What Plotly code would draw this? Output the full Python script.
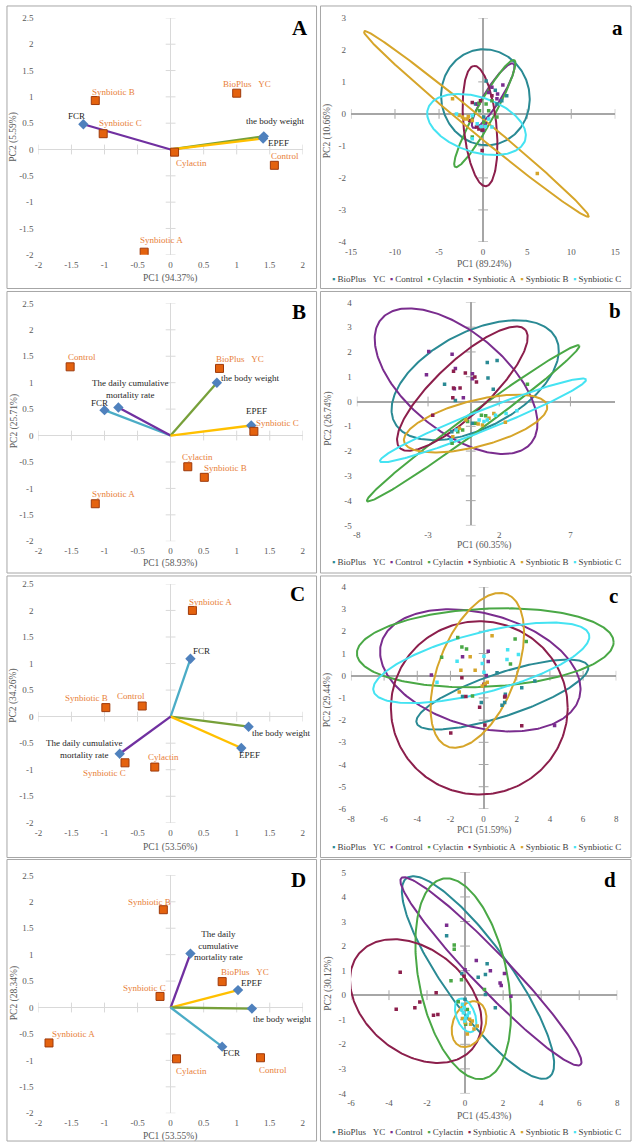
import numpy as np
import plotly.graph_objects as go

W, H = 637, 1148
FONT = 'Liberation Serif'
NB = '\u00a0'

# ---------------- data: biplots (left column) ----------------
A_trt = ['Synbiotic B', 'Synbiotic C', 'BioPlus' + NB * 3 + 'YC', 'Cylactin', 'Control', 'Synbiotic A']
A_trt_x = [-1.14, -1.02, 1.00, 0.06, 1.57, -0.40]
A_trt_y = [0.93, 0.30, 1.07, -0.05, -0.30, -1.95]
A_var = ['FCR', 'the body weight', 'EPEF']
A_var_x = [-1.32, 1.41, 1.40]
A_var_y = [0.48, 0.25, 0.21]

B_trt = ['Control', 'BioPlus' + NB * 3 + 'YC', 'Synbiotic C', 'Cylactin', 'Synbiotic B', 'Synbiotic A']
B_trt_x = [-1.52, 0.74, 1.26, 0.26, 0.51, -1.14]
B_trt_y = [1.30, 1.27, 0.08, -0.59, -0.79, -1.29]
B_var = ['FCR', 'The daily cumulative<br>mortality rate', 'the body weight', 'EPEF']
B_var_x = [-1.00, -0.79, 0.70, 1.22]
B_var_y = [0.48, 0.53, 1.00, 0.19]

C_trt = ['Synbiotic A', 'Synbiotic B', 'Control', 'Synbiotic C', 'Cylactin']
C_trt_x = [0.33, -0.98, -0.43, -0.69, -0.24]
C_trt_y = [2.00, 0.17, 0.20, -0.87, -0.95]
C_var = ['FCR', 'the body weight', 'EPEF', 'The daily cumulative<br>mortality rate']
C_var_x = [0.30, 1.18, 1.07, -0.77]
C_var_y = [1.09, -0.19, -0.59, -0.70]

D_trt = ['Synbiotic B', 'Synbiotic C', 'BioPlus' + NB * 3 + 'YC', 'Synbiotic A', 'Cylactin', 'Control']
D_trt_x = [-0.11, -0.16, 0.78, -1.84, 0.09, 1.36]
D_trt_y = [1.85, 0.21, 0.49, -0.67, -0.97, -0.95]
D_var = ['The daily<br>cumulative<br>mortality rate', 'EPEF', 'the body weight', 'FCR']
D_var_x = [0.30, 1.02, 1.23, 0.78]
D_var_y = [1.02, 0.33, -0.02, -0.74]

left_xticks = [-2, -1.5, -1, -0.5, 0, 0.5, 1, 1.5, 2]
left_yticks = [-2, -1.5, -1, -0.5, 0, 0.5, 1, 1.5, 2, 2.5]

# ---------------- data: score plots (right column) ----------------
groups = ['BioPlus' + NB * 3 + 'YC', 'Control', 'Cylactin', 'Synbiotic A', 'Synbiotic B', 'Synbiotic C']

a_x = [[0.34, 1.38, 1.57, 0.07, 2.68, 2.12, -0.86, -0.11],
       [1.64, 2.24, 0.00, 1.00, 0.63, -0.67, 1.57, 0.26],
       [0.63, -0.48, -0.41, 1.57, 0.07, -1.23, 1.00, 0.34],
       [1.00, -1.23, -0.75, -0.48, -0.11, -0.11, -1.53, -0.30],
       [-2.35, -2.16, -1.68, -3.47, -1.79, 6.15, -1.23, -2.72],
       [-1.23, -3.02, -1.23, -0.22, 0.26, 1.00, 0.63, -0.67]]
a_y = [[1.03, 0.74, 0.31, -0.10, 0.57, 0.41, 0.31, -0.52],
       [0.62, 0.90, -0.50, 0.83, 0.67, 0.31, 0.47, -0.31],
       [0.10, 0.33, 0.10, -0.10, -0.26, -0.72, 0.41, 0.31],
       [0.57, 0.36, -0.41, -0.47, -0.50, -1.14, -0.21, 0.41],
       [-0.10, -0.16, -0.08, 0.47, -0.16, -1.86, -0.21, -0.05],
       [-0.05, 0.00, -0.78, -0.39, -0.39, -0.41, -0.16, -0.31]]
# ellipse: centre, end of first semi-axis, end of second semi-axis
a_ell = [[0.26, 0.52, 5.29, 0.47, 0.26, 2.02],
         [1.14, 0.57, 3.43, 1.57, 1.92, 0.43],
         [0.19, 0.01, 3.54, 1.68, 1.10, -0.13],
         [-0.35, -0.38, -1.04, 1.50, 1.50, -0.32],
         [-0.78, -0.31, -13.53, 2.585, -0.19, -0.11],
         [-0.75, -0.33, 4.77, -0.82, 0.19, 0.49]]

b_x = [[1.16, 1.85, 1.21, 1.58, -1.84, -1.08, 0.12, -1.33],
       [-2.95, -1.31, -0.52, -1.15, -3.11, 0.12, 0.12, -1.08],
       [3.98, 0.75, -1.31, -0.22, 0.35, 1.05, -0.91, -0.57],
       [-1.21, -1.21, -0.75, -0.38, -1.26, -2.67, 0.29, 0.40],
       [-1.26, -0.34, 0.52, 1.62, 2.43, 0.82, -0.80, 1.28],
       [-1.38, 0.59, 0.93, 1.74, 2.48, 3.24, -1.03, 1.16]]
b_y = [[1.57, 1.66, 0.95, 0.50, 0.70, 0.04, -0.88, -1.22],
       [2.02, 1.91, 0.15, 0.52, 1.08, 0.92, 1.12, 1.33],
       [0.70, -0.55, -1.68, -0.81, -0.88, -0.57, -1.22, -1.15],
       [1.22, 0.55, 0.55, 1.15, 0.15, -0.55, 0.99, 0.79],
       [-1.42, -0.75, -0.91, -0.48, -0.84, -0.95, -1.08, -0.68],
       [-1.55, -0.75, -0.81, -0.55, -0.48, -0.37, -1.15, -0.75]]
b_ell = [[0.31, 0.86, 5.94, 2.60, -1.36, 2.54],
         [-1.03, 0.82, 4.25, -1.67, 1.16, 2.38],
         [0.17, -0.88, 7.62, 2.26, 0.55, -1.18],
         [-0.59, 0.52, 3.82, 2.90, -1.85, 1.31],
         [0.34, -0.89, 5.36, -0.15, -0.06, 0.01],
         [0.86, -0.76, 8.09, 0.89, 1.12, -1.14]]

c_x = [[2.30, 1.27, 1.11, 1.31, 3.09, -1.27, -0.14, 0.81],
       [-1.27, 0.28, 0.28, 0.16, -3.15, 1.31, 4.28, 0.08],
       [-1.56, -1.31, -1.03, -2.53, 1.90, 2.57, 1.62, -0.67],
       [-1.98, 0.08, 2.30, -0.24, -1.07, -1.31, 1.27, 0.02],
       [0.51, -0.81, -1.37, -0.51, -1.47, 0.22, 0.08, -0.08],
       [-2.81, -1.60, -0.08, 0.02, 1.45, 1.41, 0.02, 2.10]]
c_y = [[-0.54, -1.21, -1.33, -0.84, -0.24, -0.94, -1.21, 0.13],
       [0.85, 1.10, 0.64, 0.01, 0.03, -0.91, -2.24, -0.39],
       [1.72, 1.29, 1.20, 0.83, 1.65, 1.54, 0.53, -0.91],
       [-2.58, -2.22, -2.25, -1.42, -0.94, -0.09, -0.96, -0.39],
       [1.80, 0.85, 0.25, 0.25, -0.73, -0.29, -0.36, -0.46],
       [-0.29, 0.65, 0.55, 0.88, 1.17, 0.73, 0.16, 0.95]]
c_ell = [[1.13, -0.85, 6.30, 0.43, 1.53, -1.77],
         [-0.20, 0.24, 5.78, -0.97, 0.68, 2.71],
         [0.10, 1.26, 7.84, 1.51, 0.10, 3.02],
         [-0.26, -1.45, 5.07, -1.45, -0.26, 2.45],
         [-0.38, 0.24, 1.41, 3.67, 1.80, -0.40],
         [-0.14, 0.58, 6.36, 1.85, 0.31, -0.72]]

d_x = [[-0.97, 1.16, 0.69, 1.07, -0.17, 1.59, 0.00, 1.07],
       [-0.97, 0.59, 1.33, 2.07, 1.84, 1.90, 2.41, 0.00],
       [-0.57, -0.57, -0.74, -0.19, 1.02, -0.36, 0.12, 0.03],
       [-3.41, -3.62, -2.64, -2.38, -1.52, -1.66, -1.43, -0.05],
       [-0.14, 0.29, 0.38, 0.64, 0.12, 0.24, 0.00, 0.47],
       [-0.14, -0.09, 0.03, 0.12, -0.17, -0.02, 0.21, -0.05]]
d_y = [[2.42, 1.28, 0.73, 0.84, 0.88, -0.51, -0.17, 0.03],
       [2.85, 1.41, 1.00, 0.88, 0.50, 0.39, -0.04, 1.04],
       [2.04, 1.87, 0.59, 0.63, 0.23, -0.27, -0.58, -1.18],
       [0.93, -0.57, -0.51, -0.28, 0.10, -0.82, -0.79, 0.77],
       [-0.95, -1.18, -1.05, -1.25, -1.58, -0.98, -1.11, -1.38],
       [-0.37, -0.71, -0.91, -0.82, -0.60, -1.05, -0.71, -0.51]]
d_ell = [[0.68, 0.72, 4.43, -3.33, 2.08, 1.51],
         [1.36, 0.97, 6.07, -2.83, 2.05, 1.48],
         [-0.10, 0.67, 0.98, -3.40, 2.17, 1.04],
         [-2.59, -0.24, 0.40, -2.17, -0.85, 1.38],
         [0.21, -1.18, 0.52, -0.25, 1.07, -1.25],
         [0.03, -0.82, -0.31, -0.15, 0.48, -0.67]]

# ---------------- styles ----------------
group_colors = ['#2A8A94', '#7A2D8E', '#4AA846', '#8C1F4C', '#D6A52A', '#45E3F2']
C_FCR_A, C_MORT, C_BW, C_EPEF, C_FCR = '#7030A0', '#7030A0', '#77A03A', '#FFC000', '#4BACC6'
TRT_TXT = '#E8803A'
TICK_FONT = dict(family=FONT, size=9, color='#595959')

# label offsets (px) for each label, centre of text relative to marker
A_trt_off = [(18, 9), (17, 11), (10, 9), (17, -11), (11, 9), (17, 12)]
A_var_off = [(-7, 8), (11, 15), (15, -5)]
B_trt_off = [(12, 10), (20, 9), (24, 8), (10, 10), (21, 9), (18, 10)]
B_var_off = [(-5, 7), (12, 19), (33, 5), (5, 15)]
C_trt_off = [(18, 8), (-19, 10), (-11, 10), (-21, -10), (9, 10)]
C_var_off = [(11, 8), (32, -6), (8, -7), (-36, 5)]
D_trt_off = [(-14, 8), (-16, 8), (23, 10), (24, 9), (15, -12), (13, -12)]
D_var_off = [(28, 8), (13, 7), (30, -10), (9, -6)]

fig = go.Figure()
layout = {}
annotations = []
shapes = []


def names(n):
    s = '' if n == 1 else str(n)
    return 'x' + s, 'y' + s, 'xaxis' + s, 'yaxis' + s


def set_axes(n, xd, yd, xr, yr, xt, yt, zc, zw):
    xref, yref, xk, yk = names(n)
    common = dict(showgrid=False, zeroline=True, zerolinecolor=zc, zerolinewidth=zw,
                  showline=False, ticks='', tickfont=TICK_FONT, fixedrange=True)
    layout[xk] = dict(domain=[xd[0] / W, xd[1] / W], range=xr, anchor=yref, ticklabelstandoff=3,
                      tickvals=xt, ticktext=[('%g' % v) for v in xt], **common)
    layout[yk] = dict(domain=[1 - yd[1] / H, 1 - yd[0] / H], range=yr, anchor=xref, ticklabelstandoff=4,
                      tickvals=yt, ticktext=[('%g' % v) for v in yt], **common)
    # cross tick marks on the zero lines
    tx = [v for v in xt if v != 0]
    ty = [v for v in yt if v != 0]
    fig.add_trace(go.Scatter(x=tx, y=[0] * len(tx), xaxis=xref, yaxis=yref, mode='markers',
                             marker=dict(symbol='line-ns', size=7, line=dict(color=zc, width=1)),
                             hoverinfo='skip', showlegend=False))
    fig.add_trace(go.Scatter(x=[0] * len(ty), y=ty, xaxis=xref, yaxis=yref, mode='markers',
                             marker=dict(symbol='line-ew', size=7, line=dict(color=zc, width=1)),
                             hoverinfo='skip', showlegend=False))


def biplot(n, trt, tx, ty, toff, var, vx, vy, vcol, voff):
    xref, yref, _, _ = names(n)
    for x, y, c in zip(vx, vy, vcol):
        fig.add_trace(go.Scatter(x=[0, x], y=[0, y], xaxis=xref, yaxis=yref, mode='lines',
                                 line=dict(color=c, width=2.3), hoverinfo='skip', showlegend=False))
    fig.add_trace(go.Scatter(x=vx, y=vy, xaxis=xref, yaxis=yref, mode='markers',
                             marker=dict(symbol='diamond', size=8, color='#4F81BD'),
                             showlegend=False))
    fig.add_trace(go.Scatter(x=tx, y=ty, xaxis=xref, yaxis=yref, mode='markers',
                             marker=dict(symbol='square', size=8, color='#E4620E',
                                         line=dict(color='#9E3A0C', width=1)),
                             showlegend=False))
    for t, x, y, (dx, dy) in zip(trt, tx, ty, toff):
        annotations.append(dict(x=x, y=y, xref=xref, yref=yref, text=t, showarrow=False,
                                xanchor='center', yanchor='middle',
                                xshift=dx, yshift=dy, font=dict(family=FONT, size=9, color=TRT_TXT)))
    for t, x, y, (dx, dy) in zip(var, vx, vy, voff):
        annotations.append(dict(x=x, y=y, xref=xref, yref=yref, text=t, showarrow=False,
                                xanchor='center', yanchor='middle',
                                xshift=dx, yshift=dy, align='center',
                                font=dict(family=FONT, size=9, color='#262626')))


def scoreplot(n, xs, ys, ell):
    xref, yref, _, _ = names(n)
    t = np.linspace(0, 2 * np.pi, 241)
    for (cx, cy, ax_, ay_, bx_, by_), col in zip(ell, group_colors):
        ex = cx + (ax_ - cx) * np.cos(t) + (bx_ - cx) * np.sin(t)
        ey = cy + (ay_ - cy) * np.cos(t) + (by_ - cy) * np.sin(t)
        fig.add_trace(go.Scatter(x=ex, y=ey, xaxis=xref, yaxis=yref, mode='lines',
                                 line=dict(color=col, width=2), hoverinfo='skip', showlegend=False))
    for x, y, col, g in zip(xs, ys, group_colors, groups):
        fig.add_trace(go.Scatter(x=x, y=y, xaxis=xref, yaxis=yref, mode='markers', name=g,
                                 marker=dict(symbol='square', size=3.5, color=col),
                                 showlegend=False))


# ---------------- geometry (px) ----------------
left_rows = [(13, 252), (301, 541), (584, 825), (878, 1118)]
right_rows = [(13, 239), (300, 525), (587, 811), (875, 1098)]
right_cols = [(351, 620), (357, 620), (351, 621), (351, 622)]
frames = [(1, 286), (289, 573), (576, 860), (862, 1146)]

right_xr = [[-15, 15], [-8, 10.15], [-8, 8], [-6, 8]]
right_yr = [[-4, 3], [-5, 4], [-6, 4], [-4, 5]]
right_xt = [list(range(-15, 16, 5)), [-8, -3, 2, 7], list(range(-8, 9, 2)), list(range(-6, 9, 2))]
right_yt = [list(range(-4, 4)), list(range(-5, 5)), list(range(-6, 5)), list(range(-4, 6))]

left_titles = [('PC1 (94.37%)', 'PC2 (5.59%)'), ('PC1 (58.93%)', 'PC2 (25.71%)'),
               ('PC1 (53.56%)', 'PC2 (34.26%)'), ('PC1 (53.55%)', 'PC2 (28.34%)')]
right_titles = [('PC1 (89.24%)', 'PC2 (10.66%)'), ('PC1 (60.35%)', 'PC2 (26.74%)'),
                ('PC1 (51.59%)', 'PC2 (29.44%)'), ('PC1 (45.43%)', 'PC2 (30.12%)')]
left_letters = ['A', 'B', 'C', 'D']
right_letters = ['a', 'b', 'c', 'd']

left_x_title_y = [276, 563, 850, 1141]
left_y_title_y = [133, 420, 697, 997]
right_x_title_y = [262, 545, 833, 1121]
right_y_title_y = [127, 417, 701, 987]
legend_y = [276, 562, 849, 1137]
letter_left = [(299, 23), (298, 310), (297, 594), (298, 883)]
letter_right = [(622, 23), (620, 309), (618, 596), (615, 883)]

bi = [(A_trt, A_trt_x, A_trt_y, A_trt_off, A_var, A_var_x, A_var_y, [C_FCR_A, C_BW, C_EPEF], A_var_off),
      (B_trt, B_trt_x, B_trt_y, B_trt_off, B_var, B_var_x, B_var_y, [C_FCR, C_MORT, C_BW, C_EPEF], B_var_off),
      (C_trt, C_trt_x, C_trt_y, C_trt_off, C_var, C_var_x, C_var_y, [C_FCR, C_BW, C_EPEF, C_MORT], C_var_off),
      (D_trt, D_trt_x, D_trt_y, D_trt_off, D_var, D_var_x, D_var_y, [C_MORT, C_EPEF, C_BW, C_FCR], D_var_off)]
sc = [(a_x, a_y, a_ell), (b_x, b_y, b_ell), (c_x, c_y, c_ell), (d_x, d_y, d_ell)]

legend_text = '&nbsp;&nbsp;'.join(
    "<span style='color:%s'>&#9642;</span> %s" % (c, g) for c, g in zip(group_colors, groups))


def ann_px(x, y, text, size=9, color='#595959', **kw):
    annotations.append(dict(x=x / W, y=1 - y / H, xref='paper', yref='paper', text=text,
                            xanchor='center', yanchor='middle', showarrow=False,
                            font=dict(family=FONT, size=size, color=color), **kw))


for r in range(4):
    nl, nr = 2 * r + 1, 2 * r + 2
    set_axes(nl, (33, 302), left_rows[r], [-2, 2], [-2, 2.5], left_xticks, left_yticks, '#D9D9D9', 1)
    biplot(nl, *bi[r])
    set_axes(nr, right_cols[r], right_rows[r], right_xr[r], right_yr[r], right_xt[r], right_yt[r], '#A6A6A6', 1.6)
    scoreplot(nr, *sc[r])

    ann_px(167, left_x_title_y[r], left_titles[r][0], size=9.5)
    ann_px(8, left_y_title_y[r], left_titles[r][1], size=9.5, textangle=-90)
    ann_px(486, right_x_title_y[r], right_titles[r][0], size=9.5)
    ann_px(328, right_y_title_y[r], right_titles[r][1], size=9.5, textangle=-90)
    ann_px(479, legend_y[r], legend_text, size=9, color='#404040')
    ann_px(*letter_left[r], '<b>%s</b>' % left_letters[r], size=21, color='#000000')
    ann_px(*letter_right[r], '<b>%s</b>' % right_letters[r], size=21, color='#000000')

    y0, y1 = frames[r]
    for x0, x1 in [(1, 316), (320, 636)]:
        shapes.append(dict(type='rect', xref='paper', yref='paper', x0=x0 / W, x1=x1 / W,
                           y0=1 - y1 / H, y1=1 - y0 / H, line=dict(color='#A6A6A6', width=1)))

fig.update_layout(width=W, height=H, margin=dict(l=0, r=0, t=0, b=0),
                  paper_bgcolor='white', plot_bgcolor='white', showlegend=False,
                  annotations=annotations, shapes=shapes, **layout)

fig.write_html('out.html', config={'displayModeBar': False},
               post_script="document.body.style.margin='0';document.body.style.overflow='hidden';")
